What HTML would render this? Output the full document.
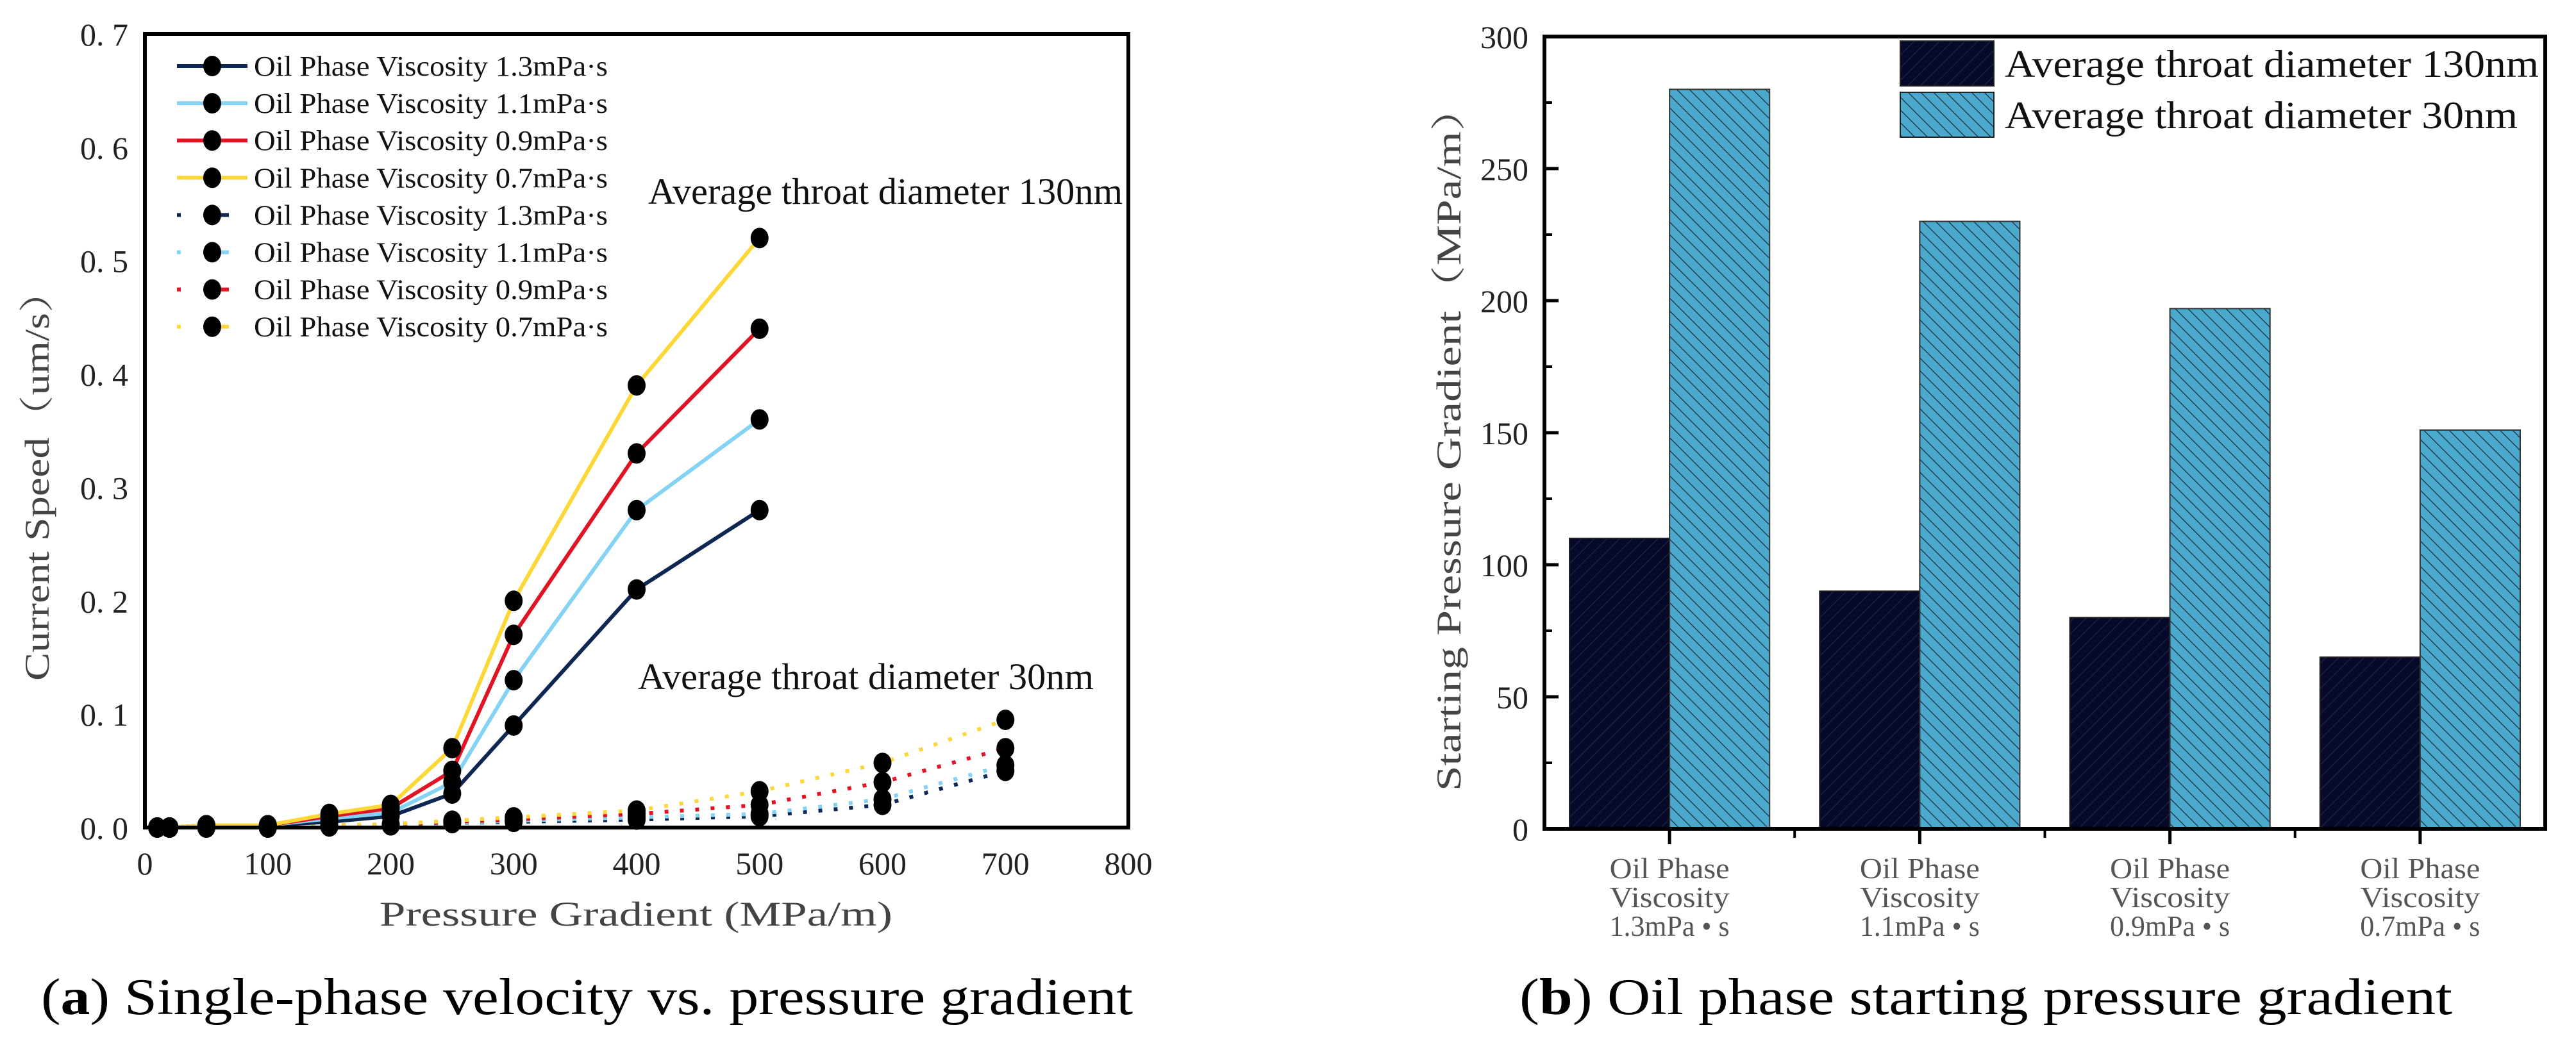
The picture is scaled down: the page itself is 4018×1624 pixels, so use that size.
<!DOCTYPE html>
<html><head><meta charset="utf-8"><style>
html,body{margin:0;padding:0;background:#fff;}
svg{display:block;}
text{font-family:"Liberation Serif","Noto Serif CJK SC",serif;}
</style></head><body>
<svg id="fig" width="4018" height="1624" viewBox="0 0 4018 1624" xmlns="http://www.w3.org/2000/svg">
<defs>
<pattern id="hatchDark" patternUnits="userSpaceOnUse" width="14" height="14" patternTransform="rotate(45)">
<rect width="14" height="14" fill="#06092a"/><line x1="0" y1="0" x2="0" y2="14" stroke="#1a2040" stroke-width="3"/></pattern>
<pattern id="hatchBlue" patternUnits="userSpaceOnUse" width="14" height="14" patternTransform="rotate(-45)">
<rect width="14" height="14" fill="#4aa9cc"/><line x1="0" y1="0" x2="0" y2="14" stroke="#1b2c3c" stroke-width="2.5"/></pattern>
</defs>
<g id="left"></g>
<g id="right"></g>
<text x="64" y="1582" font-size="80" textLength="1703" lengthAdjust="spacingAndGlyphs">(<tspan font-weight="bold">a</tspan>) Single-phase velocity vs. pressure gradient</text>
<text x="2370" y="1582" font-size="80" textLength="1455" lengthAdjust="spacingAndGlyphs">(<tspan font-weight="bold">b</tspan>) Oil phase starting pressure gradient</text>
</svg>
<script>
// ---- left chart data ----
const xSolid = [10, 20, 50, 100, 150, 200, 250, 300, 400, 500];
const solid13 = [0, 0, 0.002, 0.002, 0.005, 0.01, 0.03, 0.09, 0.21, 0.28];
const solid11 = [0, 0, 0.002, 0.002, 0.008, 0.013, 0.04, 0.13, 0.28, 0.36];
const solid09 = [0, 0, 0.002, 0.002, 0.01, 0.017, 0.05, 0.17, 0.33, 0.44];
const solid07 = [0, 0, 0.002, 0.002, 0.012, 0.02, 0.07, 0.2, 0.39, 0.52];
const xDot = [10, 20, 50, 100, 150, 200, 250, 300, 400, 500, 600, 700];
const dot13 = [0, 0, 0, 0, 0.001, 0.002, 0.004, 0.005, 0.007, 0.01, 0.02, 0.05];
const dot11 = [0, 0, 0, 0, 0.001, 0.002, 0.004, 0.006, 0.009, 0.012, 0.025, 0.055];
const dot09 = [0, 0, 0, 0, 0.001, 0.002, 0.005, 0.007, 0.012, 0.02, 0.04, 0.07];
const dot07 = [0, 0, 0, 0, 0.002, 0.003, 0.006, 0.009, 0.015, 0.032, 0.057, 0.095];
const xTicks = [0, 100, 200, 300, 400, 500, 600, 700, 800];
const yTicks = [0, 0.1, 0.2, 0.3, 0.4, 0.5, 0.6, 0.7];
const legendLabels = ["Oil Phase Viscosity 1.3mPa·s","Oil Phase Viscosity 1.1mPa·s","Oil Phase Viscosity 0.9mPa·s","Oil Phase Viscosity 0.7mPa·s","Oil Phase Viscosity 1.3mPa·s","Oil Phase Viscosity 1.1mPa·s","Oil Phase Viscosity 0.9mPa·s","Oil Phase Viscosity 0.7mPa·s"];
// ---- right chart data ----
const categories = [["Oil Phase","Viscosity","1.3mPa • s"],["Oil Phase","Viscosity","1.1mPa • s"],["Oil Phase","Viscosity","0.9mPa • s"],["Oil Phase","Viscosity","0.7mPa • s"]];
const bars130 = [110, 90, 80, 65];
const bars30 = [280, 230, 197, 151];
const barTicks = [0, 50, 100, 150, 200, 250, 300];

const NS = "http://www.w3.org/2000/svg";
function mk(parent, tag, attrs, txt){const e=document.createElementNS(NS,tag);for(const k in attrs)e.setAttribute(k,attrs[k]);if(txt!==undefined)e.textContent=txt;parent.appendChild(e);return e;}

// ===== LEFT =====
const L = document.getElementById('left');
const lx0=226,lx1=1760,ly0=53,ly1=1291;
const sx = v => lx0 + v/800*(lx1-lx0);
const sy = v => ly1 - v/0.7*(ly1-ly0);
const colors = ["#0d2652","#84d2f4","#e01424","#fdd736"];

yTicks.forEach(t=>{
  const e=mk(L,'text',{x:200,y:sy(t)+18,'font-size':50,'text-anchor':'end',fill:'#222'},t.toFixed(1).replace('.','. '));
  
  
});
xTicks.forEach(t=>{
  const e=mk(L,'text',{x:sx(t),y:1364,'font-size':50,'text-anchor':'middle',fill:'#222'},String(t));
  
  
});
let e;
e=mk(L,'text',{x:992,y:1444,'font-size':54,'text-anchor':'middle',fill:'#444',textLength:800,lengthAdjust:'spacingAndGlyphs','font-family':'Liberation Mono, Noto Sans CJK SC, monospace'},"Pressure Gradient (MPa/m)");


e=mk(L,'text',{x:0,y:0,'font-size':54,'text-anchor':'middle',fill:'#444',textLength:640,lengthAdjust:'spacingAndGlyphs',transform:'translate(76,742) rotate(-90)','font-family':'Liberation Mono, Noto Sans CJK SC, monospace'},"Current Speed（um/s）");



const dotSeries=[dot13,dot11,dot09,dot07];
const solidSeries=[solid13,solid11,solid09,solid07];
dotSeries.forEach((s,i)=>{
  const p=mk(L,'polyline',{points:xDot.map((x,j)=>sx(x)+','+sy(s[j])).join(' '),fill:'none',stroke:colors[i],'stroke-width':6,'stroke-dasharray':'6 18'});
  
  
});
solidSeries.forEach((s,i)=>{
  const p=mk(L,'polyline',{points:xSolid.map((x,j)=>sx(x)+','+sy(s[j])).join(' '),fill:'none',stroke:colors[i],'stroke-width':6});
  
  
});
dotSeries.forEach(s=>{xDot.forEach((x,j)=>{
  const c=mk(L,'ellipse',{cx:sx(x),cy:sy(s[j]),rx:14,ry:16,fill:'#000'});
  
  
});});
solidSeries.forEach(s=>{xSolid.forEach((x,j)=>{
  const c=mk(L,'ellipse',{cx:sx(x),cy:sy(s[j]),rx:14,ry:16,fill:'#000'});
  
  
});});
e=mk(L,'rect',{x:lx0,y:ly0,width:lx1-lx0,height:ly1-ly0,fill:'none',stroke:'#000','stroke-width':6});


// legend
legendLabels.forEach((lab,i)=>{
  const y=103+i*58.1;
  const g=mk(L,'g',{});
  
  
  const col=colors[i%4];
  if(i<4){mk(g,'line',{x1:276,y1:y,x2:386,y2:y,stroke:col,'stroke-width':6});}
  else{mk(g,'line',{x1:276,y1:y,x2:282,y2:y,stroke:col,'stroke-width':6});mk(g,'line',{x1:345,y1:y,x2:357,y2:y,stroke:col,'stroke-width':6});}
  mk(g,'ellipse',{cx:331,cy:y,rx:14,ry:16,fill:'#000'});
  mk(g,'text',{x:396,y:y+15,'font-size':44,textLength:552,lengthAdjust:'spacingAndGlyphs',fill:'#111'},lab);
});
e=mk(L,'text',{x:1011,y:318,'font-size':58,textLength:740,lengthAdjust:'spacingAndGlyphs',fill:'#111'},"Average throat diameter 130nm");


e=mk(L,'text',{x:995,y:1075,'font-size':58,textLength:711,lengthAdjust:'spacingAndGlyphs',fill:'#111'},"Average throat diameter 30nm");



// ===== RIGHT =====
const R=document.getElementById('right');
const rx0=2409,rx1=3970,ry0=57,ry1=1293;
const by = v => ry1 - v/300*(ry1-ry0);
const band=(rx1-rx0)/categories.length;
const bw=band*0.4;
barTicks.forEach(t=>{
  const tl=mk(R,'text',{x:2384,y:by(t)+18,'font-size':50,'text-anchor':'end',fill:'#222'},String(t));
  
  
  const tk=mk(R,'line',{x1:rx0,y1:by(t),x2:rx0+22,y2:by(t),stroke:'#000','stroke-width':5});
  
  
  if(t<300){const mt=mk(R,'line',{x1:rx0,y1:by(t+25),x2:rx0+12,y2:by(t+25),stroke:'#000','stroke-width':4});
  
  }
});
categories.forEach((cat,i)=>{
  const cx=rx0+band*(i+0.5);
  const b1=mk(R,'rect',{x:cx-bw,y:by(bars130[i]),width:bw,height:ry1-by(bars130[i]),fill:'url(#hatchDark)',stroke:'#222','stroke-width':2});
  
  
  const b2=mk(R,'rect',{x:cx,y:by(bars30[i]),width:bw,height:ry1-by(bars30[i]),fill:'url(#hatchBlue)',stroke:'#333','stroke-width':2});
  
  
  const tk=mk(R,'line',{x1:cx,y1:ry1,x2:cx,y2:ry1+24,stroke:'#000','stroke-width':5});
  
  
  if(i>0){const bt=mk(R,'line',{x1:rx0+band*i,y1:ry1,x2:rx0+band*i,y2:ry1+14,stroke:'#000','stroke-width':4});
  
  }
  cat.forEach((ln,k)=>{
    const t=mk(R,'text',{x:cx,y:1370+k*45,'font-size':46,'text-anchor':'middle',fill:'#555',textLength:187,lengthAdjust:'spacingAndGlyphs','font-family':'Liberation Mono, Noto Sans CJK SC, monospace'},ln);
    
    
  });
});
e=mk(R,'rect',{x:rx0,y:ry0,width:rx1-rx0,height:ry1-ry0,fill:'none',stroke:'#000','stroke-width':6});


e=mk(R,'text',{x:0,y:0,'font-size':54,'text-anchor':'middle',fill:'#444',textLength:1100,lengthAdjust:'spacingAndGlyphs',transform:'translate(2278,684) rotate(-90)','font-family':'Liberation Mono, Noto Sans CJK SC, monospace'},"Starting Pressure Gradient（MPa/m）");


// legend
[["url(#hatchDark)","Average throat diameter 130nm",64,833],["url(#hatchBlue)","Average throat diameter 30nm",144,800]].forEach(d=>{
  const g=mk(R,'g',{});
  
  
  mk(g,'rect',{x:2964,y:d[2],width:146,height:70,fill:d[0],stroke:'#222','stroke-width':2});
  mk(g,'text',{x:3127,y:d[2]+56,'font-size':60,textLength:d[3],lengthAdjust:'spacingAndGlyphs',fill:'#111'},d[1]);
});
</script>
</body></html>
